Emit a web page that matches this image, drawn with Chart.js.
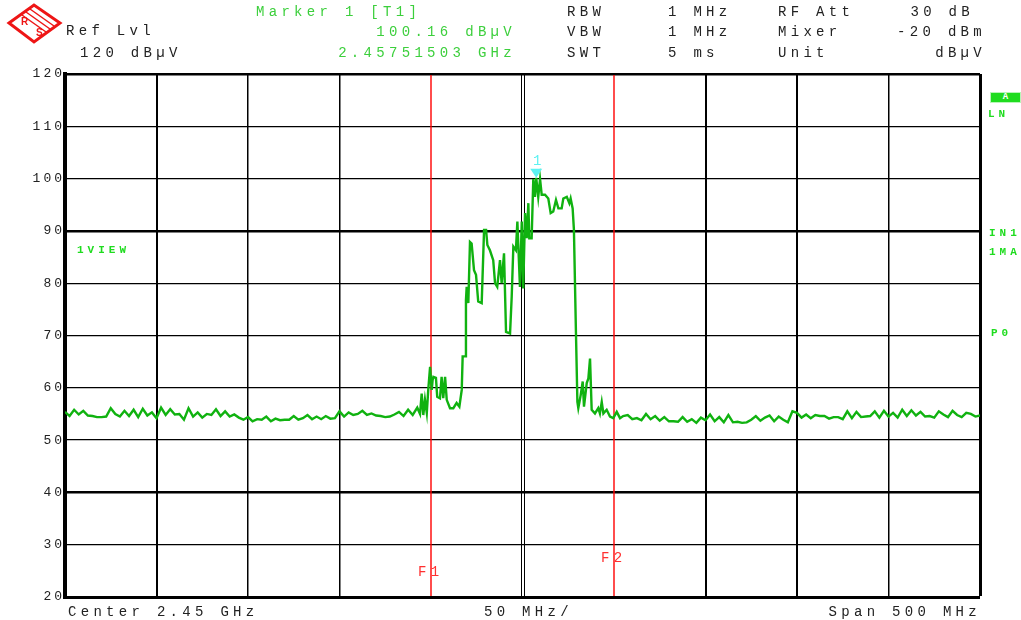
<!DOCTYPE html>
<html>
<head>
<meta charset="utf-8">
<script src="https://cdn.jsdelivr.net/npm/chart.js@4.4.1/dist/chart.umd.min.js"></script>
<style>
  body { margin: 0; background: #fff; }
  #wrap { position: relative; width: 1021px; height: 620px; overflow: hidden; }
  #myChart { position: absolute; left: 0; top: 0; }
  .t { position: absolute; font-family: 'Liberation Mono', monospace; font-size: 14px; line-height: 14px;
       letter-spacing: 4.3px; white-space: pre; color: #222; }
  .g { color: #3ccf3c; }
  .r { color: #ff3030; }
  .s { position: absolute; font-family: 'Liberation Mono', monospace; font-weight: bold; font-size: 11px;
       line-height: 11px; letter-spacing: 4px; white-space: pre; color: #1fdc1f; }
  #boxA { position: absolute; left: 990px; top: 92px; width: 31px; height: 11px; background: #1fdc1f;
          box-shadow: inset 0 0 0 1px #b8f5b8; color: #fff; font: bold 9px 'Liberation Mono', monospace;
          line-height: 11px; text-align: center; }
</style>
</head>
<body>
<div id="wrap">
  <canvas id="myChart" width="1021" height="620"></canvas>

  <svg width="70" height="48" style="position:absolute;left:0;top:0">
    <polygon points="9,23 34,5 60,23 34,42" fill="none" stroke="#ee1515" stroke-width="3"/>
    <line x1="22" y1="15" x2="46" y2="32" stroke="#ee1515" stroke-width="1.5"/>
    <line x1="26" y1="12" x2="50" y2="29" stroke="#ee1515" stroke-width="1.5"/>
    <line x1="30" y1="9" x2="54" y2="26" stroke="#ee1515" stroke-width="1.5"/>
    <text x="21" y="25" font-family="Liberation Sans" font-weight="bold" font-size="10" fill="#ee1515">R</text>
    <text x="36" y="36" font-family="Liberation Sans" font-weight="bold" font-size="10" fill="#ee1515">S</text>
  </svg>

  <div class="t" style="left:66px;top:24px">Ref Lvl</div>
  <div class="t" style="left:80px;top:46px">120 dBµV</div>

  <div class="t g" style="left:256px;top:5px">Marker 1 [T1]</div>
  <div class="t g" style="right:505px;top:25px">100.16 dBµV</div>
  <div class="t g" style="right:505px;top:46px">2.45751503 GHz</div>

  <div class="t" style="left:567px;top:5px">RBW</div>
  <div class="t" style="left:567px;top:25px">VBW</div>
  <div class="t" style="left:567px;top:46px">SWT</div>
  <div class="t" style="left:668px;top:5px">1 MHz</div>
  <div class="t" style="left:668px;top:25px">1 MHz</div>
  <div class="t" style="left:668px;top:46px">5 ms</div>
  <div class="t" style="left:778px;top:5px">RF Att</div>
  <div class="t" style="left:778px;top:25px">Mixer</div>
  <div class="t" style="left:778px;top:46px">Unit</div>
  <div class="t" style="right:47px;top:5px">30 dB</div>
  <div class="t" style="right:35px;top:25px">-20 dBm</div>
  <div class="t" style="right:35px;top:46px">dBµV</div>

  <div class="t" style="left:68px;top:605px">Center 2.45 GHz</div>
  <div class="t" style="left:484px;top:605px">50 MHz/</div>
  <div class="t" style="right:40px;top:605px">Span 500 MHz</div>

  <div class="t r" style="left:418px;top:565px">F1</div>
  <div class="t r" style="left:601px;top:551px">F2</div>

  <div class="s" style="left:77px;top:245px">1VIEW</div>
  <div id="boxA">A</div>
  <div class="s" style="left:988px;top:109px">LN</div>
  <div class="s" style="left:989px;top:228px">IN1</div>
  <div class="s" style="left:989px;top:247px">1MA</div>
  <div class="s" style="left:991px;top:328px">P0</div>
</div>

<script>
'use strict';

// axis settings
let centerMHz = 2450;
let spanMHz = 500;
let refLevel = 120;
let bottomLevel = 20;

// limit lines F1 / F2
let limitLines = [2400, 2500];

// marker 1
let markerMHz = 2457.5;
let markerDb = 100.16;

// noise floor below the band, every 2.5 MHz from 2200 MHz
let stepMHz = 2.5;
let noiseLeftStart = 2200;
let noiseLeftDb = [
  55.4, 54.6, 55.8, 54.9, 55.6, 54.7, 54.6, 54.4, 54.4, 54.5,
  56.1, 55.0, 54.5, 55.6, 54.6, 55.8, 54.4, 56.0, 54.7, 55.3,
  54.2, 56.2, 54.8, 55.9, 54.9, 55.0, 53.9, 56.1, 54.5, 55.3,
  54.3, 55.0, 54.8, 55.9, 54.6, 55.5, 54.5, 54.9, 54.3, 53.9,
  54.4, 53.6, 54.0, 53.9, 54.5, 53.6, 54.1, 53.8, 53.9, 53.9,
  54.6, 53.9, 54.2, 54.8, 54.0, 54.5, 54.0, 54.6, 54.1, 54.2,
  55.5, 54.5, 55.3, 54.8, 55.0, 55.6, 54.8, 55.1, 54.7, 54.6,
  54.4, 54.5, 54.9, 55.4, 54.6, 55.8, 54.8, 56.2
];

// the signal itself
let bandMHz = [
  2394.0, 2394.9, 2395.8, 2396.7, 2397.7, 2398.5, 2399.5, 2400.4, 2400.9, 2401.3,
  2402.7, 2403.4, 2404.9, 2405.8, 2406.7, 2407.7, 2408.6, 2410.4, 2412.2, 2414.0,
  2415.5, 2416.8, 2417.3, 2418.6, 2419.1, 2419.5, 2420.4, 2421.3, 2422.2, 2423.5,
  2424.6, 2425.8, 2427.7, 2429.0, 2430.1, 2430.8, 2432.2, 2434.0, 2435.0, 2436.2,
  2437.7, 2438.6, 2439.9, 2441.0, 2443.2, 2444.1, 2445.0, 2446.4, 2447.2, 2448.6,
  2449.6, 2450.4, 2451.4, 2452.3, 2453.2, 2453.7, 2455.0, 2455.9, 2456.8, 2457.5,
  2458.6, 2459.6, 2460.5, 2462.3, 2464.1, 2465.4, 2466.8, 2468.3, 2469.6, 2471.4,
  2472.3, 2474.2, 2475.6, 2476.3, 2477.4, 2478.1, 2479.2, 2480.0, 2480.5, 2481.8,
  2482.9, 2483.6, 2485.1, 2486.0, 2486.9, 2487.8, 2489.6, 2491.4, 2492.3, 2493.3,
  2494.2, 2496.0, 2497.8, 2499.6, 2501.5, 2503.3
];
let bandDb = [
  55.0, 58.9, 54.8, 57.7, 55.2, 59.6, 64.0, 59.6, 61.5, 62.1,
  61.9, 58.3, 58.0, 62.1, 58.0, 62.1, 57.7, 56.1, 56.1, 57.1,
  56.4, 59.6, 66.0, 66.0, 76.8, 79.3, 76.2, 87.9, 87.6, 82.5,
  81.6, 76.5, 76.2, 90.2, 90.2, 87.3, 86.3, 84.4, 80.0, 79.3,
  84.4, 80.0, 85.7, 70.7, 70.4, 77.4, 87.0, 86.3, 91.8, 79.3,
  91.8, 79.0, 93.4, 88.6, 95.3, 88.6, 88.6, 99.9, 96.5, 100.16,
  96.5, 99.9, 96.9, 96.9, 96.2, 93.4, 93.7, 95.9, 94.3, 94.3,
  96.2, 96.5, 95.3, 96.2, 94.3, 90.2, 70.7, 57.3, 56.1, 58.6,
  61.2, 56.4, 60.9, 61.8, 65.6, 55.8, 55.1, 56.1, 55.1, 57.3,
  55.1, 55.8, 54.5, 54.2, 55.4, 54.2
];

// noise floor above the band, every 2.5 MHz from 2505 MHz
let noiseRightStart = 2505;
let noiseRightDb = [
  54.6, 54.8, 54.0, 54.2, 53.8, 55.0, 54.0, 54.6, 53.7, 54.4,
  53.6, 53.6, 53.5, 54.4, 53.5, 54.0, 53.3, 54.3, 53.8, 54.9,
  53.6, 54.4, 53.4, 54.8, 53.4, 53.5, 53.3, 53.4, 53.9, 54.6,
  53.7, 54.3, 54.7, 53.6, 54.5, 53.9, 53.4, 55.5, 55.2, 54.3,
  54.9, 54.2, 54.8, 54.6, 54.6, 54.1, 54.4, 54.4, 54.0, 55.5,
  54.2, 55.4, 54.4, 54.5, 54.6, 55.5, 54.3, 55.6, 54.5, 55.2,
  54.3, 55.8, 54.6, 55.7, 54.7, 55.4, 54.5, 54.6, 54.3, 55.5,
  54.9, 54.4, 55.6, 54.8, 54.4, 55.2, 55.0, 54.5, 54.7
];

let trace = [];
for( let i = 0; i < noiseLeftDb.length; i++ ) {
  trace.push( { x: noiseLeftStart + i * stepMHz, y: noiseLeftDb[i] } );
}
for( let i = 0; i < bandMHz.length; i++ ) {
  trace.push( { x: bandMHz[i], y: bandDb[i] } );
}
for( let i = 0; i < noiseRightDb.length; i++ ) {
  trace.push( { x: noiseRightStart + i * stepMHz, y: noiseRightDb[i] } );
}

// extra drawing: double center line, F lines, marker
let overlay = {
  id: 'overlay',
  beforeDraw( chart ) {
    chart.ctx.letterSpacing = '3px';
  },
  beforeDatasetsDraw( chart ) {
    let ctx = chart.ctx;
    let a = chart.chartArea;
    let x = chart.scales.x;
    ctx.letterSpacing = '0px';
    ctx.save();
    ctx.strokeStyle = '#000';
    ctx.lineWidth = 1;
    let cx = Math.round( x.getPixelForValue( centerMHz ) );
    [-1.5, 1.5].forEach( d => {
      ctx.beginPath();
      ctx.moveTo( cx + d, a.top );
      ctx.lineTo( cx + d, a.bottom );
      ctx.stroke();
    } );
    ctx.restore();
    ctx.save();
    ctx.strokeStyle = 'rgb(255, 0, 0)';
    ctx.lineWidth = 1.4;
    for( let i = 0; i < limitLines.length; i++ ) {
      let px = Math.round( x.getPixelForValue( limitLines[i] ) );
      ctx.beginPath();
      ctx.moveTo( px, a.top + 1 );
      ctx.lineTo( px, a.bottom - 1 );
      ctx.stroke();
    }
    ctx.restore();
  },
  afterDatasetsDraw( chart ) {
    let ctx = chart.ctx;
    let px = chart.scales.x.getPixelForValue( markerMHz );
    let py = chart.scales.y.getPixelForValue( markerDb );
    ctx.save();
    ctx.fillStyle = '#5cf2f2';
    ctx.beginPath();
    ctx.moveTo( px - 6, py - 9 );
    ctx.lineTo( px + 6, py - 9 );
    ctx.lineTo( px, py );
    ctx.closePath();
    ctx.fill();
    ctx.font = '14px "Liberation Mono"';
    ctx.textAlign = 'center';
    ctx.textBaseline = 'middle';
    ctx.fillText( '1', px + 1, py - 16 );
    ctx.restore();
  }
};

let ctx = document.getElementById( 'myChart' ).getContext( '2d' );

let myChart = new Chart( ctx, {
  type: 'line',
  data: {
    datasets: [{
      data: trace,
      borderColor: '#10b210',
      borderWidth: 2.4,
      pointRadius: 0,
      tension: 0
    }]
  },
  options: {
    responsive: false,
    animation: false,
    devicePixelRatio: 1,
    parsing: false,
    layout: { padding: { left: 0, top: 74, right: 41, bottom: 23 } },
    plugins: { legend: { display: false }, tooltip: { enabled: false } },
    scales: {
      x: {
        type: 'linear',
        min: centerMHz - spanMHz / 2,
        max: centerMHz + spanMHz / 2,
        ticks: { display: false, stepSize: 50 },
        grid: {
          drawTicks: false,
          color: '#000',
          lineWidth: c => {
            let v = c.tick.value;
            if ( v === 2200 || v === centerMHz || limitLines.includes( v ) ) return 0;
            if ( v === 2700 ) return 3;
            if ( v === 2250 || v === 2550 || v === 2600 ) return 2;
            return 1.5;
          }
        },
        border: { color: '#000', width: 3 },
        afterFit: s => { s.height = 0; }
      },
      y: {
        min: bottomLevel,
        max: refLevel,
        ticks: {
          stepSize: 10,
          padding: 0,
          color: '#222',
          font: { family: 'Liberation Mono', size: 13 }
        },
        grid: {
          drawTicks: false,
          color: '#000',
          lineWidth: c => {
            let v = c.tick.value;
            if ( v === 120 ) return 2.5;
            if ( v === 20 ) return 3;
            if ( v === 90 || v === 40 ) return 2.5;
            return 1.3;
          }
        },
        border: { color: '#000', width: 4 },
        afterFit: s => { s.width = 65; }
      }
    }
  },
  plugins: [overlay]
} );
</script>
</body>
</html>
